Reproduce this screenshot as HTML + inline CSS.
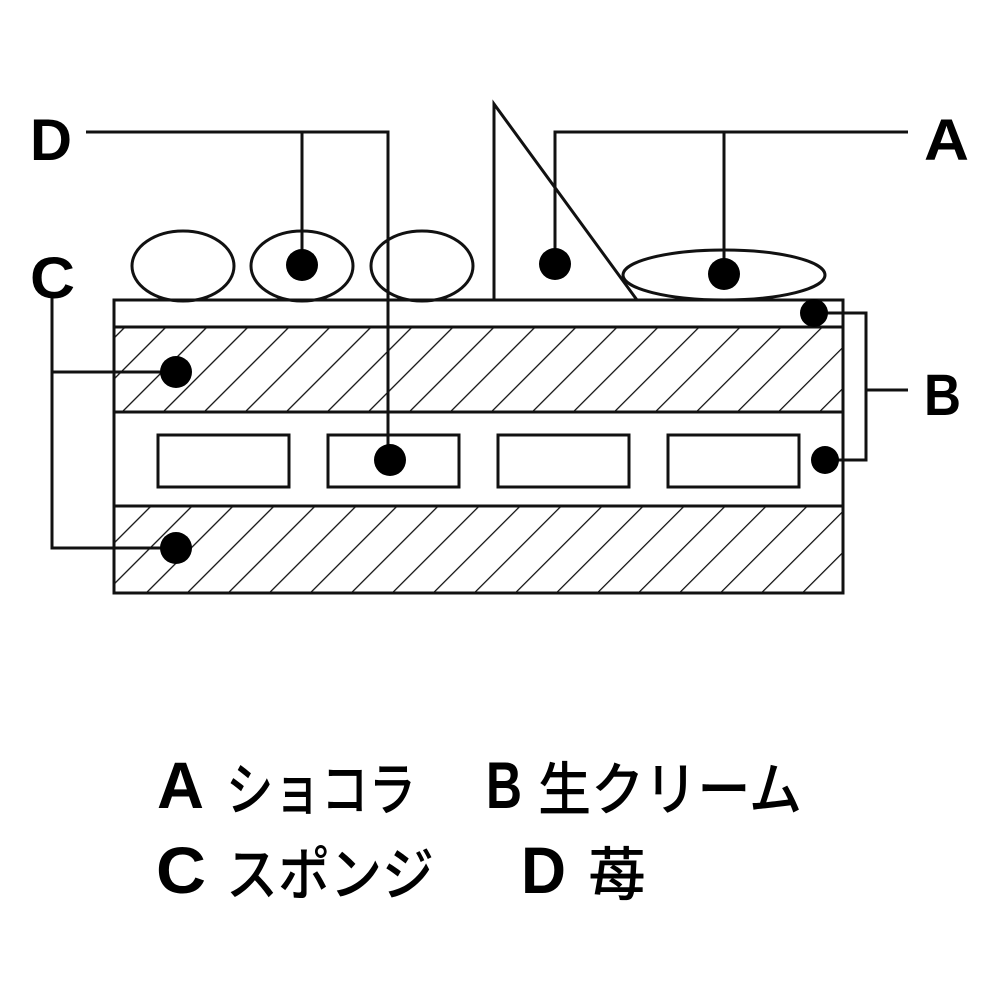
<!DOCTYPE html>
<html><head><meta charset="utf-8"><style>html,body{margin:0;padding:0;background:#fff}svg{display:block}</style></head>
<body>
<svg width="1000" height="1000" viewBox="0 0 1000 1000" xmlns="http://www.w3.org/2000/svg">
<defs>
<pattern id="h" patternUnits="userSpaceOnUse" width="29" height="29" patternTransform="rotate(45)">
<line x1="0" y1="0" x2="0" y2="29" stroke="#111" stroke-width="2.6"/>
</pattern>
</defs>
<g fill="none" stroke="#111" stroke-width="3">
<rect x="114" y="327" width="729" height="85" fill="url(#h)" stroke="none"/>
<rect x="114" y="506" width="729" height="87" fill="url(#h)" stroke="none"/>
<rect x="114" y="300" width="729" height="293"/>
<line x1="114" y1="327" x2="843" y2="327"/>
<line x1="114" y1="412" x2="843" y2="412"/>
<line x1="114" y1="506" x2="843" y2="506"/>
<rect x="158" y="435" width="131" height="52" fill="#fff"/>
<rect x="328" y="435" width="131" height="52" fill="#fff"/>
<rect x="498" y="435" width="131" height="52" fill="#fff"/>
<rect x="668" y="435" width="131" height="52" fill="#fff"/>
<ellipse cx="183" cy="266" rx="51" ry="35"/>
<ellipse cx="302" cy="266" rx="51" ry="35"/>
<ellipse cx="422" cy="266" rx="51" ry="35"/>
<polyline points="494,300 494,104 637,300"/>
<ellipse cx="724" cy="275" rx="101" ry="25"/>
<polyline points="86,132 388,132 388,460"/>
<line x1="302" y1="132" x2="302" y2="265"/>
<polyline points="908,132 555,132 555,264"/>
<line x1="724" y1="132" x2="724" y2="274"/>
<polyline points="814,313 866,313 866,460 825,460"/>
<line x1="866" y1="390" x2="908" y2="390"/>
<polyline points="176,372 52,372"/>
<polyline points="52,298 52,548 176,548"/>
</g>
<g fill="#000">
<circle cx="302" cy="265" r="16"/>
<circle cx="555" cy="264" r="16"/>
<circle cx="724" cy="274" r="16"/>
<circle cx="814" cy="313" r="14"/>
<circle cx="176" cy="372" r="16"/>
<circle cx="390" cy="460" r="16"/>
<circle cx="825" cy="460" r="14"/>
<circle cx="176" cy="548" r="16"/>
</g>
<g font-family="Liberation Sans, sans-serif" font-weight="bold" font-size="58">
<text x="30" y="160" textLength="42" lengthAdjust="spacingAndGlyphs">D</text>
<text x="924" y="160" textLength="45" lengthAdjust="spacingAndGlyphs">A</text>
<text x="30" y="298" textLength="45" lengthAdjust="spacingAndGlyphs">C</text>
<text x="924" y="415" textLength="37" lengthAdjust="spacingAndGlyphs">B</text>
</g>
<g font-family="Liberation Sans, sans-serif" font-weight="bold" font-size="66">
<text x="157" y="808" textLength="47" lengthAdjust="spacingAndGlyphs">A</text>
<text x="486" y="808" textLength="36" lengthAdjust="spacingAndGlyphs">B</text>
<text x="156" y="893" textLength="50" lengthAdjust="spacingAndGlyphs">C</text>
<text x="521" y="893" textLength="45" lengthAdjust="spacingAndGlyphs">D</text>
</g>
<g font-family="Liberation Sans, 'Noto Sans CJK JP', sans-serif" font-size="58" font-weight="500">
<text x="226" y="810" textLength="190" lengthAdjust="spacingAndGlyphs">ショコラ</text>
<text x="538" y="810" textLength="264" lengthAdjust="spacingAndGlyphs">生クリーム</text>
<text x="226" y="895" textLength="208" lengthAdjust="spacingAndGlyphs">スポンジ</text>
<text x="588" y="895" textLength="58" lengthAdjust="spacingAndGlyphs">苺</text>
</g>
</svg>
</body></html>
